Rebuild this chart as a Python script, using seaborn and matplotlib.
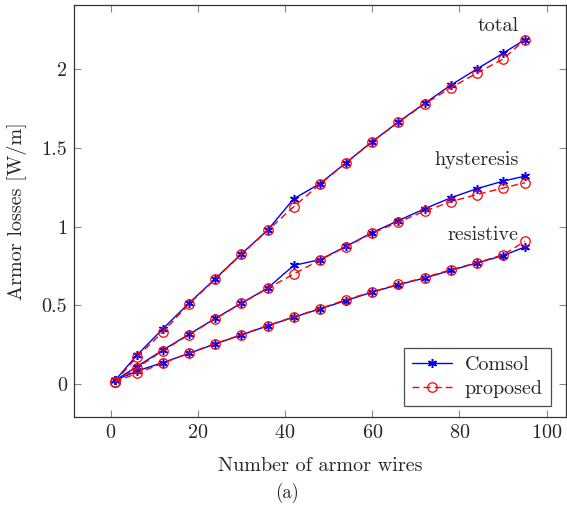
import numpy as np
import pandas as pd
import matplotlib
matplotlib.use("Agg")
import matplotlib.pyplot as plt
import seaborn as sns
from matplotlib.ticker import FuncFormatter
from matplotlib.lines import Line2D

wires = [1, 6, 12, 18, 24, 30, 36, 42, 48, 54, 60, 66, 72, 78, 84, 90, 95]

total_comsol = [0.02, 0.18, 0.35, 0.513, 0.668, 0.826, 0.977, 1.177, 1.273, 1.407, 1.541, 1.666, 1.784, 1.900, 2.003, 2.103, 2.19]
total_proposed = [0.01, 0.17, 0.33, 0.508, 0.665, 0.824, 0.975, 1.126, 1.270, 1.405, 1.540, 1.664, 1.780, 1.883, 1.977, 2.066, 2.19]
hyst_comsol = [0.02, 0.108, 0.214, 0.315, 0.415, 0.513, 0.608, 0.753, 0.789, 0.874, 0.962, 1.038, 1.113, 1.183, 1.241, 1.289, 1.321]
hyst_proposed = [0.01, 0.10, 0.21, 0.312, 0.413, 0.511, 0.606, 0.698, 0.787, 0.872, 0.958, 1.028, 1.098, 1.158, 1.204, 1.245, 1.279]
res_comsol = [0.02, 0.08, 0.134, 0.193, 0.253, 0.31, 0.368, 0.423, 0.476, 0.529, 0.583, 0.63, 0.672, 0.721, 0.768, 0.815, 0.870]
res_proposed = [0.01, 0.066, 0.13, 0.195, 0.255, 0.312, 0.37, 0.425, 0.478, 0.534, 0.585, 0.632, 0.675, 0.725, 0.77, 0.82, 0.906]

methods = ["Comsol", "proposed"]
components = ["total", "hysteresis", "resistive"]
xticks = [0, 20, 40, 60, 80, 100]
yticks = [0, 0.5, 1, 1.5, 2]

series = {
    ("total", "Comsol"): total_comsol,
    ("total", "proposed"): total_proposed,
    ("hysteresis", "Comsol"): hyst_comsol,
    ("hysteresis", "proposed"): hyst_proposed,
    ("resistive", "Comsol"): res_comsol,
    ("resistive", "proposed"): res_proposed,
}
rows = []
for (comp, meth), vals in series.items():
    for x, v in zip(wires, vals):
        rows.append({"wires": x, "loss": v, "component": comp, "method": meth})
df = pd.DataFrame(rows)

sns.set_style("ticks")
plt.rcParams["font.family"] = ["cmr10", "DejaVu Serif"]
plt.rcParams["mathtext.fontset"] = "cm"
plt.rcParams["axes.formatter.use_mathtext"] = True

FS = 14.5
ASTERISK = (6, 2, 0)

fig = plt.figure(figsize=(5.67, 5.05), dpi=100)
ax = fig.add_axes([0.1305, 0.175, 0.8675, 0.815])

sns.lineplot(
    data=df, x="wires", y="loss", hue="method", style="method",
    units="component", estimator=None, sort=False,
    palette={"Comsol": (0, 0, 1), "proposed": (1, 0, 0)},
    markers={"Comsol": "*", "proposed": "o"},
    dashes={"Comsol": "", "proposed": (5, 3)},
    linewidth=1.0, ax=ax, legend=False,
)
for line in ax.get_lines():
    c = line.get_color()
    if line.get_marker() == "o":
        line.set_markerfacecolor("none")
        line.set_markeredgecolor(c)
        line.set_markersize(6.8)
        line.set_markeredgewidth(0.9)
    else:
        line.set_marker(ASTERISK)
        line.set_markersize(6.5)
        line.set_markeredgewidth(1.1)
        line.set_markerfacecolor(c)
        line.set_markeredgecolor(c)

ax.set_xlim(-8.4, 104.4)
ax.set_ylim(-0.21, 2.41)
ax.set_xticks(xticks)
ax.set_yticks(yticks)
ax.yaxis.set_major_formatter(FuncFormatter(lambda v, p: ("%g" % v)))
ax.tick_params(direction="in", length=5, width=0.8, color="#888888",
               top=True, right=True, labelsize=FS, pad=5)
for s in ax.spines.values():
    s.set_linewidth(0.9)
    s.set_color("#333333")
    s.set_visible(True)

ax.set_xlabel("Number of armor wires", fontsize=FS, labelpad=11.5)
ax.set_ylabel("Armor losses [W/m]", fontsize=FS, labelpad=10.5)

ax.text(93.5, 2.245, "total", ha="right", va="baseline", fontsize=FS)
ax.text(93.5, 1.391, "hysteresis", ha="right", va="baseline", fontsize=FS)
ax.text(93.5, 0.917, "resistive", ha="right", va="baseline", fontsize=FS)

handles = [
    Line2D([], [], color=(0, 0, 1), marker=ASTERISK, markersize=6.5,
           markeredgewidth=1.1, linewidth=1.0),
    Line2D([], [], color=(1, 0, 0), marker="o", markersize=6.8, markerfacecolor="none",
           markeredgewidth=0.9, linestyle=(0, (5, 3)), linewidth=1.0),
]
leg = ax.legend(handles, methods, loc="lower right", bbox_to_anchor=(0.977, 0.016),
                fontsize=FS, frameon=True, fancybox=False, edgecolor="#222222",
                handlelength=2.0, handletextpad=0.6, borderpad=0.4,
                labelspacing=0.3, borderaxespad=0.2)
leg.get_frame().set_linewidth(0.9)

fig.text(0.506, 0.004, "(a)", ha="center", va="bottom", fontsize=13.5)

fig.savefig("out.png", dpi=100)
